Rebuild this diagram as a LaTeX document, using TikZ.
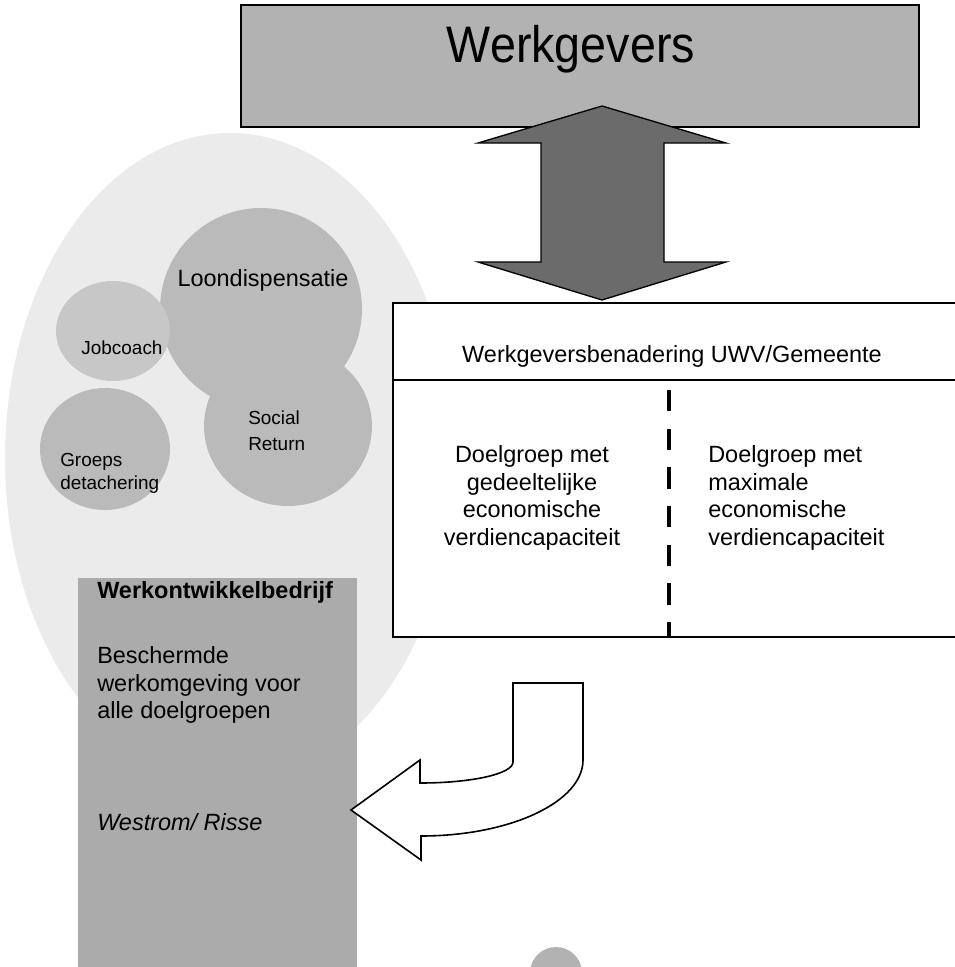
\documentclass[tikz,border=0pt]{standalone}
\usepackage{fontspec}
\setmainfont{Liberation Sans}
\usepackage{tikz}
\usetikzlibrary{positioning}

\begin{document}
\begin{tikzpicture}[x=0.75pt,y=0.75pt,yscale=-1,xscale=1,
  txt/.style={inner sep=0pt,font=\fontsize{17.6}{20.6}\selectfont},
  smalltxt/.style={inner sep=0pt,font=\fontsize{14.2}{19.5}\selectfont},
  blob/.style={fill=black!27,draw=none},
  edge/.style={line width=1.5pt}]
\useasboundingbox (0,0) rectangle (955,967);
\clip (0,0) rectangle (955,967);

%Shape: Ellipse [background]
\fill [black!8] (230,458) ellipse [x radius=225,y radius=325];

%Shape: Ellipse [Loondispensatie]
\path [blob] (261,309) circle [radius=101];
%Shape: Ellipse [Social Return]
\path [blob] (288,426) ellipse [x radius=84,y radius=80];
%Shape: Ellipse [Jobcoach]
\path [blob,fill=black!22] (113,331) ellipse [x radius=57,y radius=50];
%Shape: Ellipse [Groeps detachering]
\path [blob] (105,449) ellipse [x radius=65,y radius=61];

%Shape: Rectangle [Werkgevers]
\draw [fill=black!30,line width=1pt] (241,5) rectangle (919,127);

%Shape: Up Down Arrow
\draw [fill=black!58,line width=1pt] (602,106) -- (726,143) -- (664,143) -- (664,262) -- (726,262) -- (602,300) -- (478,262) -- (541,262) -- (541,143) -- (478,143) -- cycle ;

%Shape: Table
\fill [white] (393,303) rectangle (960,637);
\draw [edge] (960,303) -- (393,303) -- (393,637) -- (960,637) ;
\draw [edge] (393,380) -- (960,380) ;
%Straight Lines [divider]
\draw [line width=3.5pt,dash pattern=on 16pt off 13pt] (669,390) -- (669,637) ;

%Shape: Rectangle [Werkontwikkelbedrijf]
\fill [black!33] (78,578) rectangle (357,970);

%Shape: Bent Arrow
\draw [fill=white,line width=1.2pt] (513,683) -- (583,683) -- (583,760) .. controls (583,802) and (510,836) .. (421,836) -- (421,860) -- (351,810) -- (420,760) -- (420,783) .. controls (471,783) and (513,774) .. (513,762) -- cycle ;

%Shape: Circle [bottom]
\fill [black!30] (556,973) circle [radius=26];

% Text Node
\node (werkgevers) [inner sep=0pt,anchor=base,font=\fontsize{35}{40}\selectfont] at (571,62) {\scalebox{1}[1.1]{Werkgevers}};
% Text Node
\node (benadering) [txt] at (672,356) {Werkgeversbenadering UWV/Gemeente};
% Text Node
\node (gedeeltelijk) [txt,align=center] at (532,498) {Doelgroep met\\gedeeltelijke\\economische\\verdiencapaciteit};
% Text Node
\node (maximaal) [txt,align=left,anchor=west] at (708,498) {Doelgroep met\\maximale\\economische\\verdiencapaciteit};

% Text Node
\node (loon) [txt] at (263,280) {Loondispensatie};
% Text Node
\node (jobcoach) [smalltxt] at (122,348) {Jobcoach};
% Text Node
\node (social) [smalltxt,align=left,anchor=west] at (248,431) {Social\\Return};
% Text Node
\node (groeps) [smalltxt,align=left,anchor=west,font=\fontsize{14.2}{17.3}\selectfont] at (60,473) {Groeps\\detachering};

% Text Node
\node (wob) [txt,anchor=west,font=\fontsize{17.6}{20.6}\selectfont\bfseries] at (97,592) {Werkontwikkelbedrijf};
% Text Node
\node (beschermd) [txt,align=left,anchor=west] at (97,685) {Beschermde\\werkomgeving voor\\alle doelgroepen};
% Text Node
\node (westrom) [txt,anchor=west,font=\fontsize{17.6}{20.6}\selectfont\itshape] at (97,822) {Westrom/ Risse};

\end{tikzpicture}
\end{document}
